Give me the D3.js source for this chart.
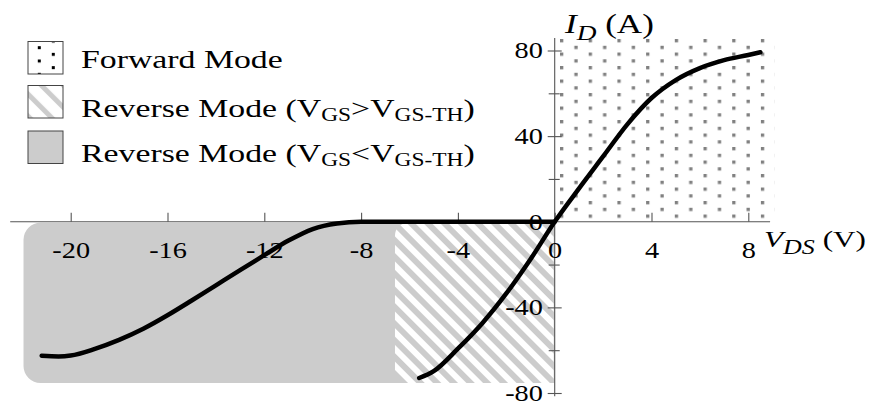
<!DOCTYPE html>
<html><head><meta charset="utf-8">
<script src="https://cdn.jsdelivr.net/npm/d3@7"></script>
<style>
html,body{margin:0;padding:0;background:#fff;}
svg{display:block;font-family:"Liberation Serif","Times New Roman",Times,serif;}
</style></head><body>
<script>
// ---- data: drain current I_D (A) versus drain-source voltage V_DS (V) ----
// body-diode / reverse branch that stays at 0 A until about -8 V
const vdsBody = [-21.2, -20.5, -20, -19, -18, -17, -16, -15, -14, -13, -12, -11, -10, -9, -8, -4, 0];
const idBody  = [-62.6, -62.9, -62.5, -59.4, -55.2, -50, -43.7, -36.8, -29.7, -22.6, -15.6, -8.8, -3.4, -0.8, 0, 0, 0];
// channel conduction branch (reverse with V_GS > V_GS-TH, then forward)
const vdsChannel = [-5.6, -5, -4, -3, -2, -1, 0, 1, 2, 3, 4, 5, 6, 7, 8, 8.5];
const idChannel  = [-73, -69.8, -59.3, -47.5, -33.5, -17.5, 0, 15.5, 30.5, 45.5, 57.8, 66.2, 71.8, 75.5, 77.9, 79.2];

// operating regions (V_DS span, I_D span)
const forwardV = [0, 9.1],       forwardI = [0, 85.5];
const revHighV = [-6.6, 0],      revHighI = [-75.3, 0];
const revLowV  = [-21.95, -6.6], revLowI  = [-75.3, 0];

// axes
const vTicks = [-20, -16, -12, -8, -4, 0, 4, 8];
const iTicksMajor = [-80, -40, 40, 80];
const iTicksMinor = [-60, -20, 20, 60];
const iTickLabels = [-80, -40, 0, 40, 80];
const vAxisSpan = [-22.5, 8.9];
const iAxisSpan = [-81.5, 85.8];

const legendNames = ["Forward Mode", "Reverse Mode", "Reverse Mode"];
const legendRel = ["", ">", "<"];

// ---- layout ----
const W = 872, H = 406;
const SX = 1.3;        // horizontal stretch of legend and titles
const SX_TICK = 1.18;  // horizontal stretch of tick numbers
const x = d3.scaleLinear().domain([-20, 8]).range([70.7, 748.3]);
const y = d3.scaleLinear().domain([-80, 80]).range([393, 50.5]);

const svg = d3.select("body").append("svg").attr("width", W).attr("height", H);
svg.append("rect").attr("width", W).attr("height", H).attr("fill", "#fff");
const defs = svg.append("defs");

// dotted fill for forward mode
function dotPattern(id, ox, oy, w, h, color, s) {
  const p = defs.append("pattern").attr("id", id).attr("patternUnits", "userSpaceOnUse")
    .attr("x", ox).attr("y", oy).attr("width", w).attr("height", h);
  p.append("rect").attr("x", 0).attr("y", 0).attr("width", s).attr("height", s).attr("fill", color);
  p.append("rect").attr("x", w / 2).attr("y", h / 2).attr("width", s).attr("height", s).attr("fill", color);
}
dotPattern("dots", x(0) + 5.3, y(85.5) + 0.3, 28.7, 13.5, "#808080", 3.3);
dotPattern("legendDots", 37.8, 46.2, 28, 13.3, "#000", 3);

// diagonal stripes for reverse mode above threshold
function hatchPattern(id, period, grayFrac, tf) {
  const p = defs.append("pattern").attr("id", id).attr("patternUnits", "userSpaceOnUse")
    .attr("width", period).attr("height", period).attr("patternTransform", tf);
  p.append("rect").attr("width", period).attr("height", period).attr("fill", "#fff");
  p.append("rect").attr("width", period * grayFrac).attr("height", period).attr("fill", "#cccccc");
}
hatchPattern("hatch", 11.8, 0.5, "rotate(-45)");
hatchPattern("legendHatch", 15.6, 0.32, "translate(38,85.5) rotate(-45)");

function leftRoundRect(x0, y0, x1, y1, r) {
  return `M${x0 + r},${y0}H${x1}V${y1}H${x0 + r}A${r},${r} 0 0 1 ${x0},${y1 - r}V${y0 + r}A${r},${r} 0 0 1 ${x0 + r},${y0}Z`;
}

// ---- regions ----
const gReg = svg.append("g");
gReg.append("path")
  .attr("d", leftRoundRect(x(revLowV[0]), y(revLowI[1]) + 1, x(revHighV[1]), y(revLowI[0]), 17))
  .attr("fill", "#cccccc");
gReg.append("path")
  .attr("d", leftRoundRect(x(revHighV[0]), y(revHighI[1]) + 1, x(revHighV[1]) - 1, y(revHighI[0]), 13))
  .attr("fill", "url(#hatch)");
gReg.append("rect")
  .attr("x", x(forwardV[0]) + 1).attr("y", y(forwardI[1]))
  .attr("width", x(forwardV[1]) - x(forwardV[0]) - 1)
  .attr("height", y(forwardI[0]) - y(forwardI[1]) - 1)
  .attr("fill", "url(#dots)");

// ---- axes ----
const axisColor = "#555";
const gAx = svg.append("g").attr("stroke", axisColor).attr("stroke-width", 1.1);
gAx.append("line").attr("x1", x(vAxisSpan[0])).attr("x2", x(vAxisSpan[1]))
  .attr("y1", y(0)).attr("y2", y(0));
gAx.append("line").attr("x1", x(0)).attr("x2", x(0))
  .attr("y1", y(iAxisSpan[1])).attr("y2", y(iAxisSpan[0]));

// strip the generator's default font so the serif face is inherited
function plainAxis(g) {
  g.attr("font-family", null).attr("font-size", null);
  g.select(".domain").remove();
  return g;
}

// x ticks point upward, labels below
const xTickAxis = plainAxis(svg.append("g").attr("transform", `translate(0,${y(0)})`)
  .call(d3.axisTop(x).tickValues(vTicks).tickSize(9).tickFormat("")));
xTickAxis.selectAll("line").attr("stroke", axisColor).attr("stroke-width", 1.1);

const fmt = d => String(d);   // hyphen-minus as in the printed labels
const xLab = plainAxis(svg.append("g").attr("transform", `translate(0,${y(0)})`)
  .call(d3.axisBottom(x).tickValues(vTicks).tickSize(0).tickPadding(19).tickFormat(fmt)));
xLab.selectAll("text").attr("font-size", 24).attr("fill", "#000")
  .attr("transform", `scale(${SX_TICK},1)`);

// y ticks cross the axis
const yMaj = plainAxis(svg.append("g").attr("transform", `translate(${x(0)},0)`)
  .call(d3.axisLeft(y).tickValues(iTicksMajor).tickSize(7).tickFormat("")));
yMaj.selectAll("line").attr("x1", 7).attr("x2", -7).attr("stroke", axisColor).attr("stroke-width", 1.1);
const yMin = plainAxis(svg.append("g").attr("transform", `translate(${x(0)},0)`)
  .call(d3.axisLeft(y).tickValues(iTicksMinor).tickSize(6).tickFormat("")));
yMin.selectAll("line").attr("x1", 5).attr("x2", -6).attr("stroke", axisColor).attr("stroke-width", 1.1);

const yLab = plainAxis(svg.append("g").attr("transform", `translate(${x(0)},0)`)
  .call(d3.axisLeft(y).tickValues(iTickLabels).tickSize(0).tickPadding(10).tickFormat(fmt)));
yLab.selectAll("text").attr("font-size", 24).attr("fill", "#000")
  .attr("x", -10).attr("dy", "0.31em").attr("transform", `scale(${SX_TICK},1)`);

// ---- lettering helper: runs of plain / italic / subscript text ----
function richText(parent, tx, ty, size, parts, subSize, subDy) {
  const t = parent.append("text").attr("transform", `translate(${tx},${ty}) scale(${SX},1)`)
    .attr("font-size", size).attr("fill", "#000");
  let down = false;
  parts.forEach(p => {
    const s = t.append("tspan").text(p.t);
    if (p.i) s.attr("font-style", "italic");
    if (p.sub) { s.attr("font-size", subSize); if (!down) { s.attr("dy", subDy); down = true; } }
    else if (down) { s.attr("dy", -subDy); down = false; }
  });
  return t;
}

// axis titles
richText(svg, 565, 33, 27, [{t: "I", i: true}, {t: "D", i: true, sub: true}, {t: " (A)"}], 21, 6.5);
richText(svg, 764, 247, 24, [{t: "V", i: true}, {t: "DS", i: true, sub: true}, {t: " (V)"}], 20, 6.5);

// ---- curves ----
const line = d3.line().x(d => x(d[0])).y(d => y(d[1])).curve(d3.curveMonotoneX);
const gCurves = svg.append("g").attr("fill", "none").attr("stroke", "#000")
  .attr("stroke-width", 4.5).attr("stroke-linecap", "round").attr("stroke-linejoin", "round");
gCurves.append("path").attr("d", line(d3.zip(vdsBody, idBody)));
gCurves.append("path").attr("d", line(d3.zip(vdsChannel, idChannel)));

// ---- legend ----
const legendFills = ["url(#legendDots)", "url(#legendHatch)", "#cccccc"];
const boxY = [41.5, 85.5, 131];
const textY = [68, 116.5, 161.5];
const gLeg = svg.append("g");
legendNames.forEach((name, k) => {
  gLeg.append("rect").attr("x", 28).attr("y", boxY[k]).attr("width", 35).attr("height", 32.5)
    .attr("fill", legendFills[k]).attr("stroke", "#444").attr("stroke-width", 1);
  const parts = k === 0 ? [{t: name}] : [
    {t: name + " (V"}, {t: "GS", sub: true}, {t: legendRel[k] + "V"}, {t: "GS-TH", sub: true}, {t: ")"}
  ];
  richText(gLeg, 81, textY[k], 26, parts, 18, 4);
});
</script>
</body></html>
